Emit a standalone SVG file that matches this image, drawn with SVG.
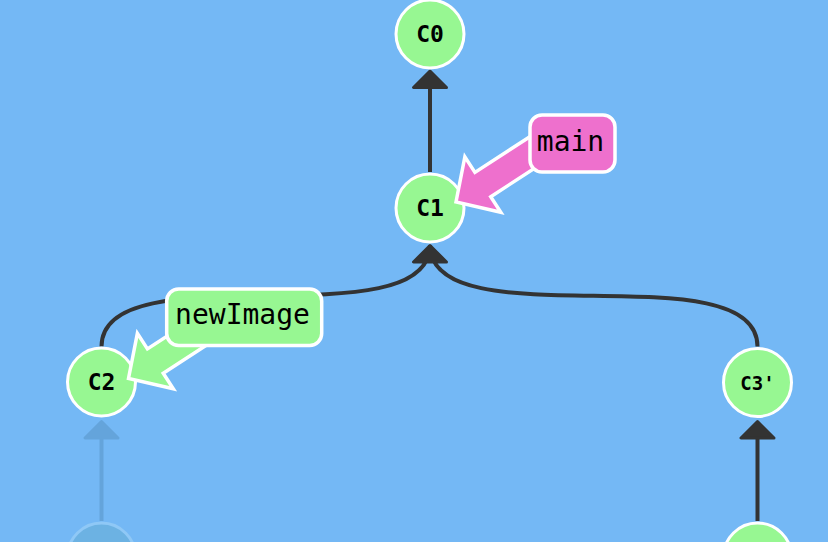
<svg xmlns="http://www.w3.org/2000/svg" width="828" height="542" viewBox="0 0 828 542">
  <defs>
    <style>
      .edge { fill: none; stroke: #333333; stroke-width: 4; }
      .head { fill: #333333; stroke: #333333; stroke-width: 3; stroke-linejoin: round; }
      .faded-edge { fill: none; stroke: #64a4db; stroke-width: 4; }
      .faded-head { fill: #64a4db; stroke: #64a4db; stroke-width: 3; stroke-linejoin: round; }
      .commit { fill: #97f792; stroke: #ffffff; stroke-width: 3; }
      .faded-commit { fill: #6cb2e3; stroke: #8fc8f6; stroke-width: 3; }
      .clabel { font-family: "DejaVu Sans Mono", "Liberation Mono", monospace; font-weight: bold; fill: #000000; text-anchor: middle; }
      .blabel { font-family: "DejaVu Sans Mono", "Liberation Mono", monospace; font-size: 28px; fill: #000000; text-anchor: middle; }
      .box { stroke: #ffffff; stroke-width: 3.5; }
      .barrow { stroke: #ffffff; stroke-width: 3.5; stroke-linejoin: miter; }
    </style>
    <polygon id="branchArrow" points="0,0 32,-33 32,-14.5 110,-14.5 110,14.5 32,14.5 32,33"/>
  </defs>

  <rect x="0" y="0" width="828" height="542" fill="#74b8f5"/>

  <g id="connectors">
    <g id="edge-C1-C0">
      <path class="edge" d="M430,172 L430,72"/>
      <polygon class="head" points="430,71 413.5,87.5 446.5,87.5"/>
    </g>
    <g id="edge-C2-C1">
      <path class="edge" d="M101.5,346.5 C101.5,249.5 430,342 430,245"/>
    </g>
    <g id="edge-C3p-C1">
      <path class="edge" d="M757.5,346.5 C757.5,249.5 430,342 430,245"/>
      <polygon class="head" points="430,245.5 413.5,262 446.5,262"/>
    </g>
    <g id="edge-faded-C2">
      <path class="faded-edge" d="M101.5,521 L101.5,422"/>
      <polygon class="faded-head" points="101.5,421.5 85,438 118,438"/>
    </g>
    <g id="edge-C3-C3p">
      <path class="edge" d="M757.5,521 L757.5,422"/>
      <polygon class="head" points="757.5,421.5 741,438 774,438"/>
    </g>
  </g>

  <g id="node-C0">
    <circle class="commit" cx="430" cy="34" r="34"/>
    <text class="clabel" x="430" y="42" font-size="23">C0</text>
  </g>
  <g id="node-C1">
    <circle class="commit" cx="430" cy="208" r="34"/>
    <text class="clabel" x="430" y="216" font-size="23">C1</text>
  </g>
  <g id="node-C2">
    <circle class="commit" cx="101.5" cy="382" r="34"/>
    <text class="clabel" x="101.5" y="390" font-size="23">C2</text>
  </g>
  <g id="node-C3p">
    <circle class="commit" cx="757.5" cy="382.5" r="34"/>
    <text class="clabel" x="757.5" y="389.5" font-size="19">C3'</text>
  </g>
  <g id="node-faded">
    <circle class="faded-commit" cx="101.5" cy="557" r="34"/>
  </g>
  <g id="node-C3">
    <circle class="commit" cx="757.5" cy="557" r="34"/>
  </g>

  <g id="branch-main">
    <use href="#branchArrow" class="barrow" fill="#ee70cd" transform="translate(456,202) rotate(-33)"/>
    <rect class="box" x="530" y="115" width="85" height="57" rx="12" fill="#ee70cd"/>
    <text class="blabel" x="570.5" y="151">main</text>
  </g>

  <g id="branch-newImage">
    <use href="#branchArrow" class="barrow" fill="#97f792" transform="translate(128.5,378.5) rotate(-33)"/>
    <rect class="box" x="166.7" y="289" width="155" height="56.5" rx="12" fill="#97f792"/>
    <text class="blabel" x="242.5" y="324">newImage</text>
  </g>
</svg>
